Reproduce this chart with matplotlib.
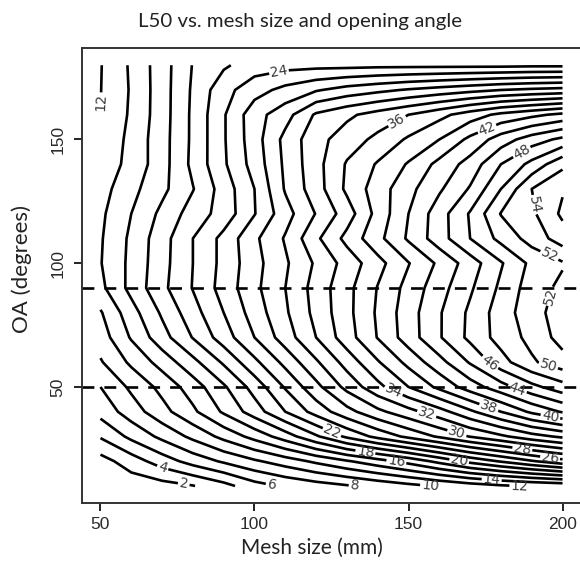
import numpy as np
import matplotlib.pyplot as plt

# L50 surface on a mesh size x opening angle grid
mesh_size = [50, 60, 70, 80, 90, 100, 110, 120, 130, 140, 150, 160, 170, 180, 190, 200]
opening_angle = [10, 20, 30, 40, 50, 60, 70, 80, 90, 100, 110, 120, 130, 140, 150, 160, 170, 180]

l50_oa10 = [0.6, 0.8, 1.2, 1.9, 3.3, 5.2, 6.3, 7.1, 7.8, 8.6, 9.4, 10.2, 11.0, 11.7, 12.2, 12.6]
l50_oa20 = [1.2, 3.0, 5.0, 6.8, 8.3, 9.7, 11.0, 12.4, 13.8, 15.2, 16.7, 18.6, 20.6, 22.2, 23.8, 25.3]
l50_oa30 = [4.2, 6.5, 8.5, 10.5, 12.6, 14.7, 17.0, 19.7, 22.4, 24.6, 26.5, 28.3, 30.1, 31.6, 33.2, 34.4]
l50_oa40 = [6.7, 9.0, 11.3, 13.6, 16.3, 19.0, 22.0, 24.8, 27.3, 29.5, 31.3, 33.2, 35.6, 38.0, 40.4, 42.2]
l50_oa50 = [8.0, 10.4, 12.6, 15.0, 17.7, 20.8, 24.2, 27.4, 30.6, 33.4, 36.0, 38.5, 41.0, 43.2, 45.4, 47.2]
l50_oa60 = [9.8, 12.4, 14.8, 17.4, 20.3, 23.5, 26.6, 29.7, 32.8, 35.8, 38.6, 41.3, 44.2, 47.2, 49.7, 51.2]
l50_oa70 = [11.0, 14.2, 17.2, 20.1, 23.0, 26.0, 29.0, 32.0, 35.1, 38.1, 41.0, 43.8, 46.5, 48.8, 50.6, 52.8]
l50_oa80 = [11.8, 15.2, 18.3, 21.2, 24.0, 26.9, 29.7, 32.6, 35.4, 38.3, 41.1, 43.8, 46.4, 49.0, 51.2, 53.0]
l50_oa90 = [13.5, 16.6, 19.5, 22.1, 24.8, 27.5, 30.0, 32.8, 35.4, 38.1, 40.7, 43.2, 45.7, 48.4, 51.0, 52.5]
l50_oa100 = [13.9, 16.5, 19.3, 22.0, 24.6, 27.3, 29.7, 32.3, 34.8, 37.3, 39.9, 42.4, 45.0, 47.8, 50.5, 51.8]
l50_oa110 = [13.8, 16.4, 19.2, 22.0, 24.6, 27.6, 30.2, 33.6, 36.6, 39.4, 42.3, 45.1, 48.0, 50.6, 52.8, 55.0]
l50_oa120 = [13.6, 16.0, 18.5, 20.9, 22.8, 25.9, 29.2, 32.1, 35.0, 38.7, 42.0, 45.1, 48.2, 52.1, 53.6, 56.4]
l50_oa130 = [13.2, 15.4, 17.5, 19.9, 22.9, 26.0, 30.2, 33.1, 36.4, 39.0, 41.4, 43.7, 46.2, 50.0, 54.0, 55.8]
l50_oa140 = [12.8, 14.6, 17.2, 20.5, 23.7, 26.8, 30.4, 33.3, 36.2, 38.2, 40.2, 42.6, 44.8, 48.0, 50.6, 53.5]
l50_oa150 = [12.2, 14.6, 17.2, 20.4, 23.8, 27.1, 30.6, 33.3, 35.0, 36.5, 38.3, 40.0, 42.5, 45.0, 47.0, 48.5]
l50_oa160 = [12.05, 14.3, 17.1, 20.4, 23.8, 27.2, 29.2, 32.3, 33.6, 34.8, 36.0, 37.4, 39.0, 40.5, 41.5, 42.5]
l50_oa170 = [11.95, 14.2, 17.1, 20.3, 23.3, 25.2, 26.6, 27.8, 28.8, 29.5, 30.2, 30.8, 31.4, 32.0, 32.4, 32.7]
l50_oa180 = [11.9, 14.3, 17.1, 20.1, 21.7, 23.0, 23.3, 23.4, 23.4, 23.5, 23.5, 23.5, 23.5, 23.5, 23.6, 23.6]

l50 = np.array([l50_oa10, l50_oa20, l50_oa30, l50_oa40, l50_oa50, l50_oa60,
                l50_oa70, l50_oa80, l50_oa90, l50_oa100, l50_oa110, l50_oa120,
                l50_oa130, l50_oa140, l50_oa150, l50_oa160, l50_oa170, l50_oa180])

levels = np.arange(2, 58, 2)
oa_lines = [50, 90]

# where the contour values get written
label_spots = [(50.5, 163), (108, 177), (146, 158), (175.6, 154), (186, 146.6),
               (192.5, 124), (195.8, 103.3), (195, 87), (195, 57), (176, 59),
               (185, 48), (145, 48), (176, 41.5), (156, 39.5), (196, 37.5),
               (166, 32.6), (125, 31.4), (187, 25.4), (136, 23.7), (196, 21.7),
               (146, 19.3), (166.5, 20.5), (177, 12.6), (186, 10), (157, 10),
               (133, 10), (105.5, 10), (77, 10.5), (70, 16.5)]

fig = plt.figure(figsize=(5.8, 5.64), dpi=100)
ax = fig.add_axes([82 / 580, 1 - 502.8 / 564, 499 / 580, 454.4 / 564])

cs = ax.contour(mesh_size, opening_angle, l50, levels=levels, colors='black', linewidths=1.9)
ax.clabel(cs, fmt='%d', manual=label_spots, inline=True, inline_spacing=2,
          fontsize=10, colors='#3a3a3a')

for oa in oa_lines:
    ax.axhline(oa, color='black', lw=1.9, linestyle=(0, (4.5, 3.8)))

ax.set_xlim(44, 206)
ax.set_ylim(3.2, 186.8)
ax.set_xticks([50, 100, 150, 200])
ax.set_yticks([50, 100, 150])
for tl in ax.get_yticklabels():
    tl.set_rotation(90)
    tl.set_va('center')
ax.tick_params(direction='out', length=6, width=1.4, labelsize=12.5,
               labelcolor='#2a2a2a', color='#222222')
ax.tick_params(axis='x', pad=4)
ax.tick_params(axis='y', pad=6)
for tl in ax.get_xticklabels() + ax.get_yticklabels():
    tl.set_fontfamily('Liberation Sans')
for sp in ax.spines.values():
    sp.set_linewidth(1.4)
    sp.set_color('#333333')

fig.text(300 / 580, 1 - 22 / 564, 'L50 vs. mesh size and opening angle',
         ha='center', va='center', fontsize=14.7, family='Lato', color='#222222')
fig.text(312 / 580, 1 - 548 / 564, 'Mesh size (mm)', ha='center', va='center',
         fontsize=15, family='Lato', color='#222222')
fig.text(22 / 580, 1 - 269 / 564, 'OA (degrees)', ha='center', va='center',
         rotation=90, fontsize=16, family='Lato', color='#222222')

fig.savefig('out.png', dpi=100)
